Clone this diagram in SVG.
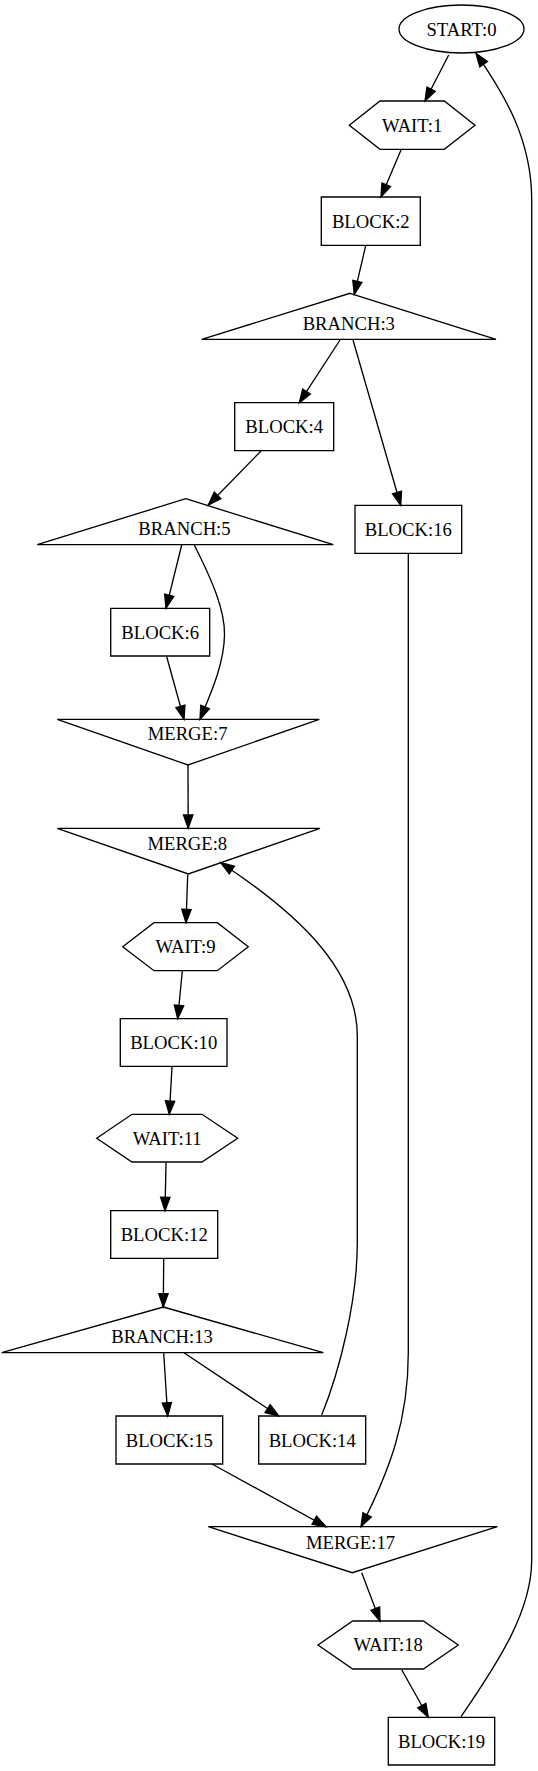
<svg xmlns="http://www.w3.org/2000/svg" width="538" height="1771" viewBox="0 0 538 1771">
<style>
.n polygon,.n ellipse{fill:none;stroke:#000;stroke-width:1.33}
.n text{font-family:"Liberation Serif","Times New Roman",serif;font-size:18.67px;text-anchor:middle;fill:#000}
.e path{fill:none;stroke:#000;stroke-width:1.33;marker-end:url(#ah)}
</style>
<defs>
<marker id="ah" markerUnits="userSpaceOnUse" markerWidth="16" markerHeight="12" refX="13.33" refY="4.67" orient="auto" overflow="visible">
<path d="M0,0 L13.33,4.67 L0,9.33 Z" fill="#000" stroke="#000" stroke-width="1.33"/>
</marker>
</defs>
<rect width="538" height="1771" fill="#fff"/>
<g id="edges" class="e">
<path d="M448.7,55 L425,101"/>
<path d="M401,150 L381,197"/>
<path d="M365.7,245.7 L354.3,294.3"/>
<path d="M340,340 L299.3,402.7"/>
<path d="M353,340 L400.7,505.3"/>
<path d="M261,451 L208.3,505"/>
<path d="M181.7,545 L166,608.3"/>
<path d="M194.3,545 C212,580 225,610 224.5,635 C224,665 210,695 200,719.3"/>
<path d="M166.7,656.7 L184,719.3"/>
<path d="M188,765 L188.2,828.3"/>
<path d="M187.7,874.7 L186,922.7"/>
<path d="M182.3,971 L177.7,1018.7"/>
<path d="M172,1067 L169.3,1114.3"/>
<path d="M166,1162.7 L165,1210.7"/>
<path d="M163.7,1259 L163.3,1307"/>
<path d="M163.7,1353 L167.7,1416"/>
<path d="M184.3,1353 L278.7,1416"/>
<path d="M321.7,1415 C340,1370 357.3,1300 357.3,1243 L357.3,1036 C357.3,970 300,915 220.7,862.7"/>
<path d="M212,1464 L326,1526.7"/>
<path d="M408.3,553.3 L408.3,1353 C408.3,1420 390,1470 361,1526.7"/>
<path d="M361.7,1572.7 L380,1621"/>
<path d="M401.7,1669.7 L428.3,1717.3"/>
<path d="M461,1716.7 C500,1660 531.7,1610 531.7,1560 L531.7,200 C531.7,140 505,95 476,53.3"/>
</g>
<g id="n0" class="n"><ellipse cx="461.5" cy="29" rx="62.5" ry="24"/><text x="461.5" y="35.5">START:0</text></g>
<g id="n1" class="n"><polygon points="475,125.2 444.3,149.3 380,149.3 349.3,125.2 380,101 444.3,101"/><text x="412.2" y="131.5">WAIT:1</text></g>
<g id="n2" class="n"><polygon points="321.3,197 420.3,197 420.3,245.3 321.3,245.3"/><text x="370.8" y="227.5">BLOCK:2</text></g>
<g id="n3" class="n"><polygon points="350,293.3 496,339.3 201.7,339.3"/><text x="348.8" y="329.5">BRANCH:3</text></g>
<g id="n4" class="n"><polygon points="234.7,402.7 333.7,402.7 333.7,450.7 234.7,450.7"/><text x="284.2" y="433.2">BLOCK:4</text></g>
<g id="n5" class="n"><polygon points="185.7,498.7 333.3,544.7 37.3,544.7"/><text x="184.5" y="534.5">BRANCH:5</text></g>
<g id="n6" class="n"><polygon points="110.7,608.3 209.7,608.3 209.7,656 110.7,656"/><text x="160.2" y="638.7">BLOCK:6</text></g>
<g id="n7" class="n"><polygon points="57.3,719.3 319.3,719.3 188,765"/><text x="187.6" y="740.3">MERGE:7</text></g>
<g id="n8" class="n"><polygon points="57.3,828.3 320,828.3 188.3,874"/><text x="187.3" y="849.5">MERGE:8</text></g>
<g id="n9" class="n"><polygon points="248.3,946.7 217.3,970.7 154,970.7 122.7,946.7 154,922.7 217.3,922.7"/><text x="185.5" y="953">WAIT:9</text></g>
<g id="n10" class="n"><polygon points="120.3,1018.7 227,1018.7 227,1066.3 120.3,1066.3"/><text x="173.7" y="1049">BLOCK:10</text></g>
<g id="n11" class="n"><polygon points="237.7,1138.2 202,1162 132,1162 96.7,1138.2 132,1114.3 202,1114.3"/><text x="167.2" y="1144.5">WAIT:11</text></g>
<g id="n12" class="n"><polygon points="110.7,1210.7 217.7,1210.7 217.7,1258.3 110.7,1258.3"/><text x="164.2" y="1241">BLOCK:12</text></g>
<g id="n13" class="n"><polygon points="163.3,1307 323.3,1352.7 1.7,1352.7"/><text x="162" y="1343">BRANCH:13</text></g>
<g id="n14" class="n"><polygon points="258.7,1416 365.7,1416 365.7,1464 258.7,1464"/><text x="312.2" y="1446.5">BLOCK:14</text></g>
<g id="n15" class="n"><polygon points="116,1416 222.7,1416 222.7,1464 116,1464"/><text x="169.3" y="1446.5">BLOCK:15</text></g>
<g id="n16" class="n"><polygon points="355,505.3 461.7,505.3 461.7,553.3 355,553.3"/><text x="408.3" y="535.8">BLOCK:16</text></g>
<g id="n17" class="n"><polygon points="208.3,1526.7 497.3,1526.7 352.3,1572.7"/><text x="350.5" y="1549">MERGE:17</text></g>
<g id="n18" class="n"><polygon points="458.3,1645 423.3,1669 352.7,1669 318,1645 352.7,1621 423.3,1621"/><text x="388.2" y="1651.3">WAIT:18</text></g>
<g id="n19" class="n"><polygon points="388.3,1717.3 494.7,1717.3 494.7,1765 388.3,1765"/><text x="441.5" y="1747.5">BLOCK:19</text></g>
</svg>
